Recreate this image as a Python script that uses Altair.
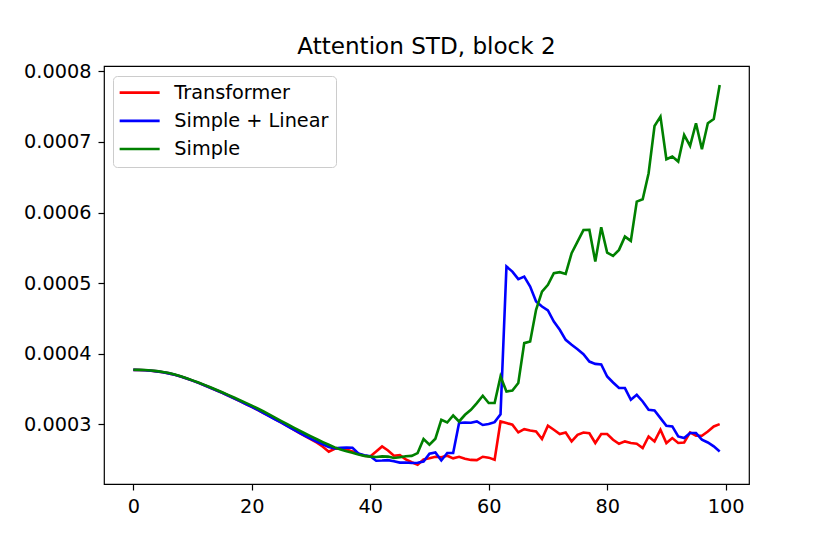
import altair as alt
import pandas as pd

steps = list(range(100))

series_names = ["Transformer", "Simple + Linear", "Simple"]
series_colors = ["#ff0000", "#0000ff", "#008000"]

transformer = [
    0.0003772, 0.0003771, 0.0003767, 0.0003760, 0.0003751, 0.0003739, 0.0003723, 0.0003703, 0.0003679, 0.0003651,
    0.0003620, 0.0003588, 0.0003555, 0.0003520, 0.0003485, 0.0003448, 0.0003410, 0.0003370, 0.0003330, 0.0003289,
    0.0003250, 0.0003207, 0.0003162, 0.0003117, 0.0003072, 0.0003027, 0.0002980, 0.0002932, 0.0002882, 0.0002835,
    0.0002790, 0.0002742, 0.0002685, 0.0002615, 0.0002656, 0.0002658, 0.0002645, 0.0002618, 0.0002586, 0.0002557,
    0.0002547, 0.0002618, 0.0002689, 0.0002632, 0.0002557, 0.0002565, 0.0002505, 0.0002465, 0.0002430, 0.0002505,
    0.0002522, 0.0002542, 0.0002535, 0.0002557, 0.0002520, 0.0002542, 0.0002515, 0.0002498, 0.0002495, 0.0002543,
    0.0002530, 0.0002500, 0.0003042, 0.0003020, 0.0002996, 0.0002887, 0.0002934, 0.0002915, 0.0002900, 0.0002793,
    0.0002982, 0.0002925, 0.0002864, 0.0002887, 0.0002760, 0.0002854, 0.0002885, 0.0002875, 0.0002737, 0.0002865,
    0.0002864, 0.0002784, 0.0002727, 0.0002760, 0.0002737, 0.0002727, 0.0002666, 0.0002830, 0.0002760, 0.0002925,
    0.0002737, 0.0002807, 0.0002737, 0.0002745, 0.0002887, 0.0002840, 0.0002840, 0.0002901, 0.0002972, 0.0003005,
]

simple_linear = [
    0.0003772, 0.0003771, 0.0003767, 0.0003760, 0.0003751, 0.0003739, 0.0003723, 0.0003703, 0.0003679, 0.0003651,
    0.0003620, 0.0003588, 0.0003555, 0.0003520, 0.0003485, 0.0003448, 0.0003410, 0.0003370, 0.0003330, 0.0003289,
    0.0003248, 0.0003205, 0.0003160, 0.0003115, 0.0003070, 0.0003025, 0.0002978, 0.0002932, 0.0002885, 0.0002840,
    0.0002795, 0.0002755, 0.0002720, 0.0002680, 0.0002662, 0.0002670, 0.0002672, 0.0002670, 0.0002590, 0.0002565,
    0.0002550, 0.0002487, 0.0002490, 0.0002495, 0.0002480, 0.0002460, 0.0002462, 0.0002455, 0.0002458, 0.0002475,
    0.0002586, 0.0002604, 0.0002490, 0.0002595, 0.0002595, 0.0003020, 0.0003028, 0.0003025, 0.0003042, 0.0002992,
    0.0003005, 0.0003033, 0.0003145, 0.0005235, 0.0005164, 0.0005057, 0.0005093, 0.0004952, 0.0004740, 0.0004669,
    0.0004613, 0.0004457, 0.0004340, 0.0004198, 0.0004127, 0.0004065, 0.0003995, 0.0003890, 0.0003857, 0.0003850,
    0.0003679, 0.0003594, 0.0003515, 0.0003515, 0.0003349, 0.0003420, 0.0003325, 0.0003208, 0.0003198, 0.0003090,
    0.0002982, 0.0002972, 0.0002830, 0.0002807, 0.0002878, 0.0002878, 0.0002784, 0.0002745, 0.0002690, 0.0002618,
]

simple = [
    0.0003774, 0.0003773, 0.0003770, 0.0003764, 0.0003755, 0.0003743, 0.0003727, 0.0003707, 0.0003683, 0.0003655,
    0.0003624, 0.0003593, 0.0003560, 0.0003527, 0.0003492, 0.0003456, 0.0003419, 0.0003381, 0.0003343, 0.0003305,
    0.0003266, 0.0003226, 0.0003183, 0.0003138, 0.0003093, 0.0003048, 0.0003003, 0.0002958, 0.0002915, 0.0002872,
    0.0002830, 0.0002790, 0.0002750, 0.0002712, 0.0002675, 0.0002645, 0.0002620, 0.0002600, 0.0002575, 0.0002555,
    0.0002545, 0.0002540, 0.0002548, 0.0002545, 0.0002525, 0.0002535, 0.0002550, 0.0002555, 0.0002595, 0.0002793,
    0.0002713, 0.0002798, 0.0003066, 0.0003028, 0.0003127, 0.0003042, 0.0003137, 0.0003208, 0.0003303, 0.0003406,
    0.0003303, 0.0003303, 0.0003679, 0.0003467, 0.0003481, 0.0003586, 0.0004151, 0.0004174, 0.0004622, 0.0004881,
    0.0004976, 0.0005141, 0.0005156, 0.0005131, 0.0005424, 0.0005589, 0.0005752, 0.0005754, 0.0005305, 0.0005792,
    0.0005433, 0.0005386, 0.0005471, 0.0005659, 0.0005598, 0.0006154, 0.0006188, 0.0006556, 0.0007225, 0.0007357,
    0.0006754, 0.0006792, 0.0006721, 0.0007098, 0.0006943, 0.0007263, 0.0006895, 0.0007263, 0.0007324, 0.0007805,
]

x_ticks = [0, 20, 40, 60, 80, 100]
y_ticks = [0.0003, 0.0004, 0.0005, 0.0006, 0.0007, 0.0008]

rows = []
for name, vals in zip(series_names, [transformer, simple_linear, simple]):
    for s, v in zip(steps, vals):
        rows.append({"step": s, "value": v, "series": name})
df = pd.DataFrame(rows)

FONT = "DejaVu Sans"
TICK_FS = 19.3
TITLE_FS = 23.1

color_enc = alt.Color(
    "series:N",
    scale=alt.Scale(domain=series_names, range=series_colors),
    legend=alt.Legend(
        title=None,
        orient="none",
        legendX=9,
        legendY=10,
        symbolType="M-2.5,0H2.5",
        symbolSize=256,
        symbolStrokeWidth=2.6,
        labelFontSize=TICK_FS,
        labelFont=FONT,
        labelColor="black",
        labelLimit=400,
        padding=7,
        rowPadding=8.2,
        symbolOffset=10,
        labelOffset=25,
        fillColor="rgba(255,255,255,0.8)",
        strokeColor="#cccccc",
        cornerRadius=4,
    ),
)

x_enc = alt.X(
    "step:Q",
    scale=alt.Scale(domain=[-4.95, 103.95], nice=False, zero=False),
    axis=alt.Axis(values=x_ticks, title=None, format="d"),
)
y_enc = alt.Y(
    "value:Q",
    scale=alt.Scale(domain=[0.0002157, 0.0008074], nice=False, zero=False),
    axis=alt.Axis(values=y_ticks, title=None, format=".4f"),
)

base = alt.Chart(df)
layers = [
    base.transform_filter(alt.datum.series == name)
    .mark_line(strokeWidth=2.6)
    .encode(x=x_enc, y=y_enc, color=color_enc)
    for name in series_names
]

chart = (
    alt.layer(*layers)
    .properties(
        width=645,
        height=418,
        autosize=alt.AutoSizeParams(type="none"),
        padding={"left": 96, "top": 58, "right": 66, "bottom": 60},
        title=alt.Title(
            "Attention STD, block 2",
            fontSize=TITLE_FS,
            font=FONT,
            fontWeight="normal",
            color="black",
            anchor="middle",
            baseline="alphabetic",
            offset=11,
            dy=26,
        ),
    )
    .configure(font=FONT)
    .configure_view(stroke="black", strokeWidth=1.2)
    .configure_axis(
        grid=False,
        domain=False,
        ticks=True,
        tickColor="black",
        tickWidth=1.2,
        tickSize=6,
        labelFont=FONT,
        labelFontSize=TICK_FS,
        labelColor="black",
    )
    .configure_axisX(labelPadding=7)
    .configure_axisY(labelPadding=7)
)

chart.save("out.html", embed_options={"renderer": "svg", "actions": False})
